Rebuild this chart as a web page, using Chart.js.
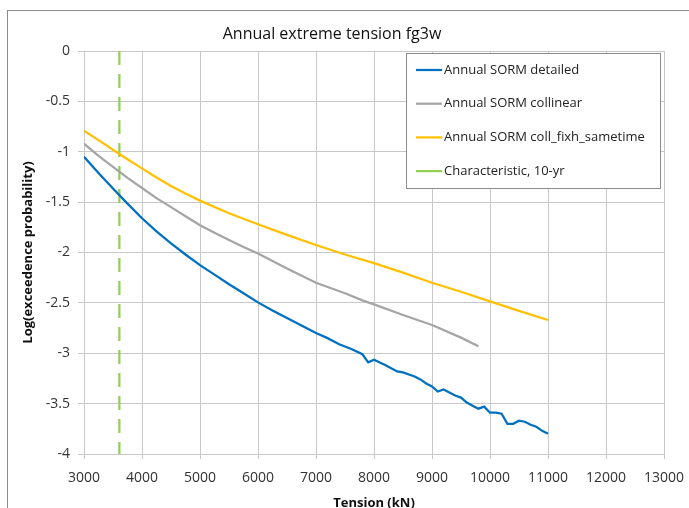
<!DOCTYPE html>
<html>
<head>
<meta charset="utf-8">
<script src="https://cdn.jsdelivr.net/npm/chart.js@4/dist/chart.umd.min.js"></script>
<style>
  body { margin: 0; background: #fff; }
</style>
</head>
<body>
<canvas id="chart" width="689" height="508"></canvas>
<script>
// Annual SORM detailed
const detX = [3000, 3250, 3500, 3750, 4000, 4250, 4500, 4750, 5000, 5250, 5500, 5750, 6000, 6250, 6500, 6750, 7000,
              7200, 7400, 7600, 7800, 7900, 8000, 8200, 8400, 8500, 8700, 8800, 8900, 9000, 9100, 9200, 9300, 9400,
              9500, 9600, 9700, 9800, 9900, 10000, 10100, 10200, 10300, 10400, 10500, 10600, 10700, 10800, 10900, 11000];
const detY = [-1.05, -1.21, -1.365, -1.515, -1.66, -1.79, -1.91, -2.02, -2.125, -2.22, -2.315, -2.405, -2.495, -2.575, -2.65, -2.725, -2.80,
              -2.85, -2.91, -2.955, -3.01, -3.09, -3.065, -3.12, -3.18, -3.19, -3.23, -3.26, -3.30, -3.33, -3.38, -3.36, -3.39, -3.42,
              -3.44, -3.49, -3.52, -3.55, -3.53, -3.59, -3.59, -3.60, -3.70, -3.70, -3.67, -3.68, -3.71, -3.73, -3.77, -3.80];

// Annual SORM collinear
const colX = [3000, 3250, 3500, 3750, 4000, 4250, 4500, 4750, 5000, 5250, 5500, 5750, 6000, 6500, 7000, 7500, 7800, 8000, 8500, 9000, 9500, 9800];
const colY = [-0.92, -1.04, -1.15, -1.26, -1.36, -1.46, -1.55, -1.64, -1.73, -1.805, -1.875, -1.945, -2.01, -2.16, -2.30, -2.405, -2.475, -2.515, -2.62, -2.72, -2.845, -2.93];

// Annual SORM coll_fixh_sametime
const fixX = [3000, 3250, 3500, 3750, 4000, 4250, 4500, 4750, 5000, 5500, 6000, 6500, 7000, 7500, 8000, 8500, 9000, 9500, 10000, 10500, 11000];
const fixY = [-0.79, -0.885, -0.98, -1.075, -1.165, -1.255, -1.34, -1.415, -1.485, -1.61, -1.72, -1.825, -1.925, -2.02, -2.105, -2.20, -2.30, -2.39, -2.485, -2.58, -2.67];

// Characteristic, 10-yr
const charX = [3610, 3610];
const charY = [0, -4];

const pts = (xs, ys) => xs.map((x, i) => ({ x: x, y: ys[i] }));
const FONT = 'Open Sans';

const line = (label, xs, ys, color, dash) => ({
    label, data: pts(xs, ys), borderColor: color, backgroundColor: color,
    borderWidth: 2.25, borderDash: dash || [], showLine: true, pointRadius: 0, tension: 0
});

// chart border + legend box drawn inside plot
const frame = {
    id: 'frame',
    beforeDraw(chart) {
        const ctx = chart.ctx;
        ctx.save();
        ctx.fillStyle = '#fff';
        ctx.fillRect(0, 0, chart.width, chart.height);
        ctx.strokeStyle = '#8c8c8c';
        ctx.lineWidth = 1;
        ctx.strokeRect(7.5, 10.5, 720, 540);
        ctx.restore();
    },
    afterDraw(chart) {
        const ctx = chart.ctx;
        ctx.save();
        ctx.fillStyle = '#fff';
        ctx.fillRect(406, 53, 254, 135);
        ctx.strokeStyle = '#8c8c8c';
        ctx.lineWidth = 1;
        ctx.strokeRect(406.5, 53.5, 254, 135);
        ctx.font = '13px "' + FONT + '"';
        ctx.textBaseline = 'middle';
        ctx.fillStyle = '#222';
        chart.data.datasets.forEach((ds, i) => {
            const y = 70 + i * 33.7;
            ctx.strokeStyle = ds.borderColor;
            ctx.lineWidth = 2.25;
            ctx.beginPath();
            ctx.moveTo(416, y);
            ctx.lineTo(442, y);
            ctx.stroke();
            ctx.fillText(ds.label, 444, y);
        });
        ctx.restore();
    }
};

new Chart(document.getElementById('chart'), {
    type: 'scatter',
    data: {
        datasets: [
            line('Annual SORM detailed', detX, detY, '#0070C0'),
            line('Annual SORM collinear', colX, colY, '#A5A5A5'),
            line('Annual SORM coll_fixh_sametime', fixX, fixY, '#FFC000'),
            line('Characteristic, 10-yr', charX, charY, '#92D050', [14, 9])
        ]
    },
    options: {
        responsive: false,
        animation: false,
        layout: { padding: { left: 0, right: 25, top: 0, bottom: 0 } },
        plugins: {
            legend: { display: false },
            tooltip: { enabled: false },
            title: {
                display: true,
                text: 'Annual extreme tension fg3w',
                color: '#111',
                font: { family: FONT, size: 16, weight: 'normal' },
                padding: { top: 25, bottom: 6.8 }
            }
        },
        scales: {
            x: {
                type: 'linear', min: 3000, max: 13000,
                afterFit: s => { s.height = 54; },
                ticks: { stepSize: 1000, padding: 4, color: '#333', font: { family: FONT, size: 14, lineHeight: 2.2 },
                         callback: v => String(v) },
                grid: { color: '#c8c8c8', tickLength: 5 },
                border: { color: '#c8c8c8' },
                title: { display: true, text: 'Tension (kN)', color: '#111', padding: { top: 0, bottom: -3 },
                         font: { family: FONT, size: 13, weight: 'bold' } }
            },
            y: {
                min: -4, max: 0,
                afterFit: s => { s.width = 84; },
                ticks: { stepSize: 0.5, padding: 8, color: '#333', font: { family: FONT, size: 14 },
                         callback: v => String(v) },
                grid: { color: '#c8c8c8', tickLength: 6 },
                border: { color: '#c8c8c8' },
                title: { display: true, text: 'Log(exceedence probability)', color: '#111', padding: { top: 20 },
                         font: { family: FONT, size: 13, weight: 'bold' } }
            }
        }
    },
    plugins: [frame]
});
</script>
</body>
</html>
